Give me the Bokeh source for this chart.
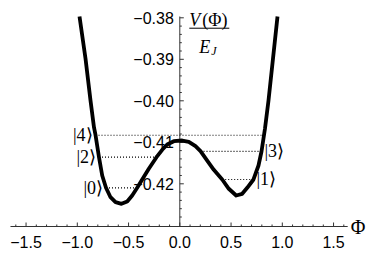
import numpy as np
from bokeh.plotting import figure
from bokeh.models import Range1d
from bokeh.core.properties import value
from bokeh.embed import file_html
from bokeh.resources import INLINE

# ---- data ----
phi = [-0.9785, -0.9200, -0.8712, -0.8371, -0.8224, -0.7883, -0.7571, -0.7200,
       -0.6761, -0.6273, -0.5688, -0.5132, -0.4644, -0.4156, -0.3668, -0.3024, -0.2273,
       -0.1717, -0.1229, -0.0585, 0.0234, 0.0878, 0.1532, 0.2020, 0.2673, 0.3317, 0.4137,
       0.4780, 0.5502, 0.6088, 0.6576, 0.7190, 0.7678, 0.7971, 0.8215, 0.8312, 0.8654,
       0.9093, 0.9532]
V = [-0.37969, -0.38981, -0.39993, -0.40643, -0.40824, -0.41359, -0.41800, -0.42096,
     -0.42323, -0.42443, -0.42482, -0.42427, -0.42282, -0.42096, -0.41896, -0.41639, -0.41359,
     -0.41181, -0.41053, -0.40973, -0.40957, -0.40988, -0.41094, -0.41214, -0.41439, -0.41663, -0.41896,
     -0.42120, -0.42282, -0.42241, -0.42096, -0.41896, -0.41559, -0.41222, -0.40824, -0.40667, -0.39993,
     -0.38981, -0.37969]

level_names = ["|0\u27e9", "|1\u27e9", "|2\u27e9", "|3\u27e9", "|4\u27e9"]
level_E = [-0.42096, -0.41896, -0.41359, -0.41218, -0.40830]
level_x0 = [-0.7200, 0.4137, -0.7883, 0.2020, -0.8224]
level_x1 = [-0.4156, 0.7190, -0.2273, 0.7971, 0.8215]
level_side = ["left", "right", "left", "right", "left"]

x_ticks = [-1.5, -1.0, -0.5, 0.0, 0.5, 1.0, 1.5]
x_tick_labels = ["\u22121.5", "\u22121.0", "\u22120.5", "0.0", "0.5", "1.0", "1.5"]
y_ticks = [-0.42, -0.41, -0.40, -0.39, -0.38]
y_tick_labels = ["\u22120.42", "\u22120.41", "\u22120.40", "\u22120.39", "\u22120.38"]

# plot range (extent of the axes) and the visible canvas range
X_PLOT = (-1.652, 1.638)
Y_PLOT = (-0.43029, -0.37969)
X_VIEW = (-1.7493, 1.8995)
Y_VIEW = (-0.437518, -0.375831)
W, H = 374, 256
px_x = W / (X_VIEW[1] - X_VIEW[0])
px_y = H / (Y_VIEW[1] - Y_VIEW[0])

p = figure(width=W, height=H, output_backend="svg", toolbar_location=None,
           x_range=Range1d(*X_VIEW), y_range=Range1d(*Y_VIEW),
           x_axis_location=None, y_axis_location=None, min_border=0)
p.outline_line_color = None
p.xgrid.visible = False
p.ygrid.visible = False
p.background_fill_color = "white"
p.border_fill_color = "white"

AX = "#333333"
SANS = value("Liberation Sans")
SERIF = value("Liberation Serif")

# horizontal axis
p.segment(x0=[X_PLOT[0]], y0=[Y_PLOT[0]], x1=[X_PLOT[1]], y1=[Y_PLOT[0]], line_color=AX, line_width=1)
minor_x = [round(v, 1) for v in np.arange(-1.6, 1.65, 0.1) if round(v, 1) not in x_ticks]
p.ray(x=x_ticks, y=[Y_PLOT[0]] * len(x_ticks), length=4, length_units="screen",
      angle=np.pi / 2, line_color=AX, line_width=1)
p.ray(x=minor_x, y=[Y_PLOT[0]] * len(minor_x), length=2, length_units="screen",
      angle=np.pi / 2, line_color=AX, line_width=1)
p.text(x=x_ticks, y=[Y_PLOT[0] - 15 / px_y] * len(x_ticks), text=x_tick_labels,
       text_align="center", text_baseline="middle", text_font=SANS, text_font_size="16px",
       text_color="black")
p.text(x=[X_PLOT[1]], y=[Y_PLOT[0]], text=["\u03a6"], x_offset=3, text_align="left",
       text_baseline="middle", text_font=SERIF, text_font_size="20px", text_color="black")

# vertical axis at phi = 0
p.segment(x0=[0], y0=[Y_PLOT[0]], x1=[0], y1=[Y_PLOT[1]], line_color=AX, line_width=1)
minor_y = [round(v, 3) for v in np.arange(-0.428, -0.3795, 0.002) if round(v, 3) not in y_ticks]
p.ray(x=[0] * len(y_ticks), y=y_ticks, length=4, length_units="screen", angle=0,
      line_color=AX, line_width=1)
p.ray(x=[0] * len(minor_y), y=minor_y, length=2, length_units="screen", angle=0,
      line_color=AX, line_width=1)
p.text(x=[0] * len(y_ticks), y=y_ticks, text=y_tick_labels, x_offset=-6, text_align="right",
       text_baseline="middle", text_font=SANS, text_font_size="16px", text_color="black")

# y axis label: V(Phi) / E_J
ytop = Y_PLOT[1]
p.text(x=[0], y=[ytop - 3.5 / px_y], text=["V"], x_offset=9.5, text_align="left",
       text_baseline="alphabetic", text_font=SERIF, text_font_style="italic",
       text_font_size="18px", text_color="black")
p.text(x=[0], y=[ytop - 3.5 / px_y], text=["(\u03a6)"], x_offset=22.5, text_align="left",
       text_baseline="alphabetic", text_font=SERIF, text_font_size="18px", text_color="black")
bar_y = ytop - 11.7 / px_y
p.segment(x0=[9.5 / px_x], y0=[bar_y], x1=[49.5 / px_x], y1=[bar_y],
          line_color="black", line_width=1)
p.text(x=[0], y=[ytop - 30.5 / px_y], text=["E"], x_offset=19.5, text_align="left",
       text_baseline="alphabetic", text_font=SERIF, text_font_style="italic",
       text_font_size="18px", text_color="black")
p.text(x=[0], y=[ytop - 34 / px_y], text=["J"], x_offset=31.5, text_align="left",
       text_baseline="alphabetic", text_font=SERIF, text_font_style="italic",
       text_font_size="12px", text_color="black")

# energy levels
p.segment(x0=level_x0, y0=level_E, x1=level_x1, y1=level_E, line_color="black",
          line_width=1.2, line_dash="1 2")
lx = [level_x0[i] for i in range(5) if level_side[i] == "left"]
ly = [level_E[i] for i in range(5) if level_side[i] == "left"]
lt = [level_names[i] for i in range(5) if level_side[i] == "left"]
rx = [level_x1[i] for i in range(5) if level_side[i] == "right"]
ry = [level_E[i] for i in range(5) if level_side[i] == "right"]
rt = [level_names[i] for i in range(5) if level_side[i] == "right"]
p.text(x=lx, y=ly, text=lt, x_offset=-3, text_align="right", text_baseline="middle",
       text_font=SERIF, text_font_size="18px", text_color="black")
p.text(x=rx, y=ry, text=rt, x_offset=3, text_align="left", text_baseline="middle",
       text_font=SERIF, text_font_size="18px", text_color="black")

# potential curve
p.line(phi, V, line_color="black", line_width=3.8, line_join="round")

open("out.html", "w").write(file_html(p, INLINE))
